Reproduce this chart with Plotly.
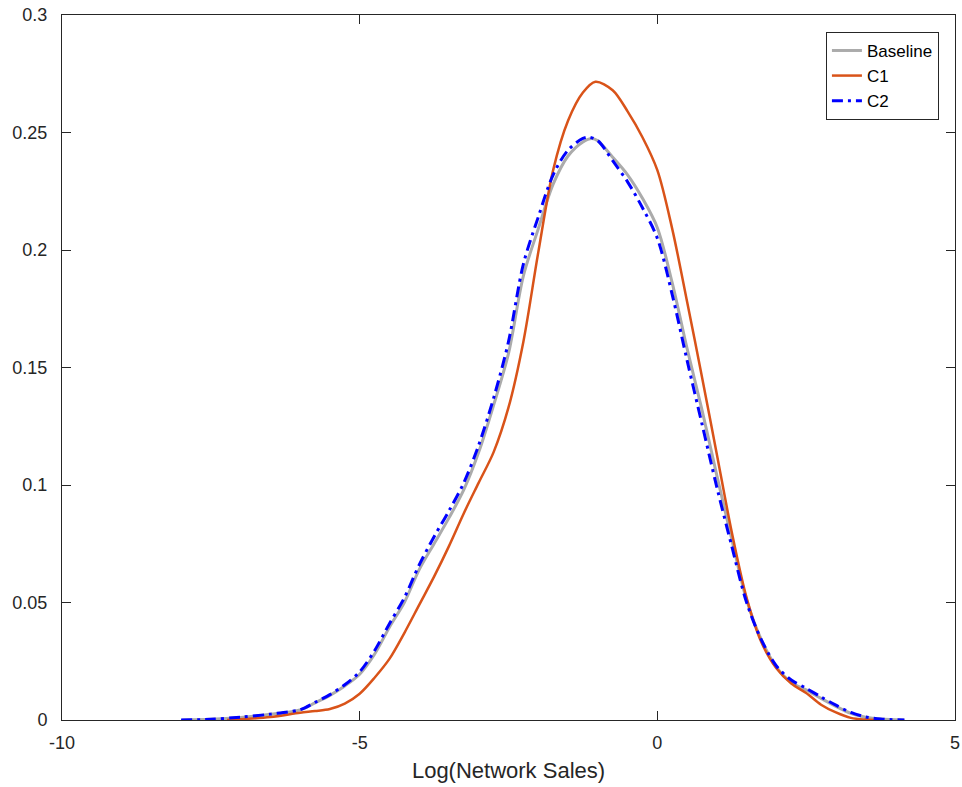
import plotly.graph_objects as go

# ---- data ----
baseline_x = [-7.98, -7.5, -7.0, -6.5, -6.0, -5.75, -5.5, -5.25, -5.0, -4.75, -4.5, -4.25, -4.0,
              -3.75, -3.5, -3.25, -3.0, -2.75, -2.5, -2.25, -2.0, -1.75, -1.5, -1.25, -1.1, -1.0,
              -0.75, -0.5, -0.25, 0.0, 0.25, 0.5, 0.75, 1.0, 1.25, 1.5, 1.75, 2.0, 2.25, 2.5,
              2.75, 3.0, 3.25, 3.5, 3.75, 4.15]
baseline_y = [0.0, 0.0003, 0.0011, 0.0024, 0.0043, 0.0073, 0.0105, 0.0145, 0.0195, 0.028, 0.0395,
              0.050, 0.064, 0.075, 0.086, 0.098, 0.114, 0.134, 0.156, 0.189, 0.209, 0.228, 0.240,
              0.246, 0.2475, 0.2465, 0.2395, 0.232, 0.222, 0.2095, 0.186, 0.158, 0.132, 0.104,
              0.077, 0.051, 0.034, 0.0225, 0.016, 0.0128, 0.0092, 0.0058, 0.0028, 0.0012, 0.0004, 0.0]

c1_x = [-7.23, -7.0, -6.5, -6.0, -5.75, -5.5, -5.25, -5.0, -4.75, -4.5, -4.25, -4.0, -3.75, -3.5,
        -3.25, -3.0, -2.75, -2.5, -2.25, -2.0, -1.75, -1.5, -1.25, -1.04, -0.75, -0.5, -0.25, 0.0,
        0.25, 0.5, 0.75, 1.0, 1.25, 1.5, 1.75, 2.0, 2.25, 2.5, 2.75, 3.0, 3.25, 3.5, 3.75]
c1_y = [0.0, 0.0003, 0.0013, 0.0031, 0.0038, 0.0047, 0.0070, 0.0112, 0.0180, 0.026, 0.037, 0.049,
        0.061, 0.074, 0.088, 0.101, 0.114, 0.133, 0.161, 0.199, 0.234, 0.255, 0.267, 0.2716, 0.268,
        0.259, 0.248, 0.234, 0.209, 0.178, 0.146, 0.113, 0.080, 0.052, 0.033, 0.022, 0.0155,
        0.0115, 0.0065, 0.0032, 0.0009, 0.0002, 0.0]

c2_x = [-8.0, -7.5, -7.0, -6.5, -6.0, -5.75, -5.5, -5.25, -5.0, -4.75, -4.5, -4.25, -4.0, -3.75,
        -3.5, -3.25, -3.0, -2.75, -2.5, -2.25, -2.0, -1.75, -1.5, -1.25, -1.15, -1.0, -0.75, -0.5,
        -0.25, 0.0, 0.25, 0.5, 0.75, 1.0, 1.25, 1.5, 1.75, 2.0, 2.25, 2.5, 2.75, 3.0, 3.25, 3.5,
        3.75, 4.15]
c2_y = [0.0, 0.0003, 0.0012, 0.0025, 0.0044, 0.0075, 0.0108, 0.015, 0.0205, 0.0295, 0.041, 0.052,
        0.066, 0.078, 0.089, 0.101, 0.117, 0.137, 0.161, 0.194, 0.214, 0.232, 0.2425, 0.2475,
        0.248, 0.2465, 0.238, 0.229, 0.218, 0.205, 0.181, 0.153, 0.126, 0.099, 0.074, 0.050,
        0.034, 0.023, 0.017, 0.0135, 0.0098, 0.0063, 0.0032, 0.0013, 0.0004, 0.0]

x_ticks = [-10, -5, 0, 5]
x_tick_labels = ["-10", "-5", "0", "5"]
y_ticks = [0, 0.05, 0.1, 0.15, 0.2, 0.25, 0.3]
y_tick_labels = ["0", "0.05", "0.1", "0.15", "0.2", "0.25", "0.3"]

# ---- figure ----
fig = go.Figure()
fig.add_trace(go.Scatter(x=baseline_x, y=baseline_y, mode="lines", name="Baseline",
                         line=dict(color="#ABABAB", width=3, shape="spline", smoothing=0.9)))
fig.add_trace(go.Scatter(x=c1_x, y=c1_y, mode="lines", name="C1",
                         line=dict(color="#D95319", width=2.5, shape="spline", smoothing=0.9)))
fig.add_trace(go.Scatter(x=c2_x, y=c2_y, mode="lines", name="C2",
                         line=dict(color="#0000FF", width=3, dash="11px,5px,3px,5px",
                                   shape="spline", smoothing=0.9)))

axis_col = "#262626"
fig.update_layout(
    width=962, height=787,
    margin=dict(l=62, r=7, t=15, b=67),
    paper_bgcolor="white", plot_bgcolor="white",
    font=dict(family="Liberation Sans, Arial, sans-serif", size=18, color=axis_col),
    showlegend=True,
    legend=dict(x=0.982, xanchor="right", y=0.976, yanchor="top",
                bordercolor=axis_col, borderwidth=1, bgcolor="white",
                font=dict(size=17, color="black"), tracegroupgap=0),
)
fig.update_xaxes(range=[-10, 5], tickvals=x_ticks, ticktext=x_tick_labels, ticks="inside",
                 ticklen=9, tickcolor=axis_col, showline=True, linecolor=axis_col, linewidth=1,
                 mirror="ticks", showgrid=False, zeroline=False, automargin=False,
                 ticklabelstandoff=6,
                 title=dict(text="Log(Network Sales)", font=dict(size=22), standoff=11),
                 tickfont=dict(size=18))
fig.update_yaxes(range=[0, 0.3], tickvals=y_ticks, ticktext=y_tick_labels, ticks="inside",
                 ticklen=9, tickcolor=axis_col, showline=True, linecolor=axis_col, linewidth=1,
                 mirror="ticks", showgrid=False, zeroline=False, automargin=False,
                 ticklabelstandoff=10, tickfont=dict(size=18))

fig.write_html("out.html", config={"displayModeBar": False},
               post_script="document.body.style.margin='0';")
